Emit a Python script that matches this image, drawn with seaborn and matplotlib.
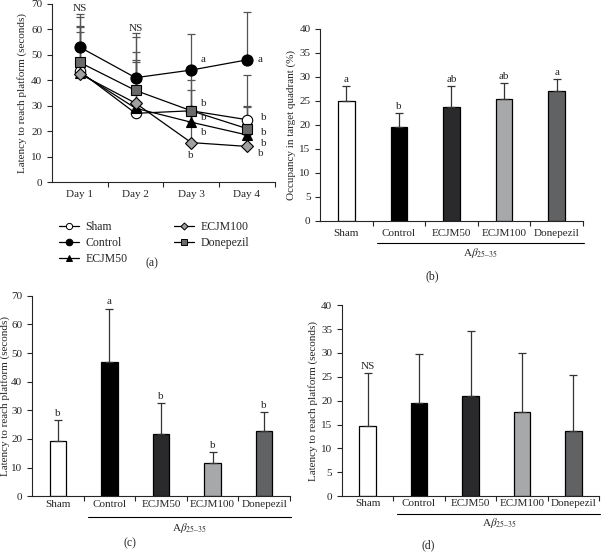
#Morris water maze: latency curves and probe-test bars (4 panels)

#import libraries
import numpy as np
import pandas as pd
import matplotlib.pyplot as plt
import seaborn as sns
from matplotlib.lines import Line2D

#groups and colours
groups = ["Sham", "Control", "ECJM50", "ECJM100", "Donepezil"]
bar_colors = ["#ffffff", "#000000", "#2a2a2c", "#a6a8ab", "#616264"]
days = ["Day 1", "Day 2", "Day 3", "Day 4"]

#(a) latency per training day, mean and upper error
sham_a = [43.5, 27, 28, 24.5]
control_a = [53, 41, 44, 48]
ecjm50_a = [43, 29, 23.5, 18.5]
ecjm100_a = [42.5, 31, 15.5, 14]
donepezil_a = [47, 36, 28, 21]
sham_a_top = [61, 47, 40, 42]
control_a_top = [66, 58.5, 58, 67]
ecjm50_a_top = [61.5, 48, 36, 29.5]
ecjm100_a_top = [59, 51, 30, 25]
donepezil_a_top = [65, 57, 43, 30]

#(b) occupancy in target quadrant
occupancy = [25, 19.5, 23.8, 25.3, 27]
occupancy_top = [28.1, 22.4, 28.1, 28.7, 29.5]
occupancy_letters = ["a", "b", "ab", "ab", "a"]

#(c) latency, probe day
latency_c = [19.3, 46.8, 21.8, 11.5, 22.8]
latency_c_top = [26.5, 65.5, 32.5, 15.3, 29.3]
latency_c_letters = ["b", "a", "b", "b", "b"]

#(d) latency, visible platform
latency_d = [14.7, 19.6, 20.9, 17.7, 13.7]
latency_d_top = [25.8, 29.8, 34.7, 30.0, 25.3]

sns.set_style("ticks")
plt.rcParams['font.family'] = ['Liberation Serif', 'DejaVu Serif']
plt.rcParams['mathtext.fontset'] = 'stix'
plt.rcParams['font.size'] = 8

fig = plt.figure(figsize=(6.04, 5.55), dpi=100)
ax_a = fig.add_axes([0.086, 0.672, 0.369, 0.321])
ax_b = fig.add_axes([0.530, 0.602, 0.435, 0.346])
ax_c = fig.add_axes([0.053, 0.106, 0.427, 0.361])
ax_d = fig.add_axes([0.566, 0.106, 0.426, 0.344])

#---- panel (a) ----
means = [sham_a, control_a, ecjm50_a, ecjm100_a, donepezil_a]
tops = [sham_a_top, control_a_top, ecjm50_a_top, ecjm100_a_top, donepezil_a_top]
df_a = pd.DataFrame({
    "group": np.repeat(groups, len(days)),
    "day": np.tile(np.arange(len(days)), len(groups)),
    "latency": np.concatenate(means),
    "top": np.concatenate(tops),
})
markers = {"Sham": "o", "Control": "o", "ECJM50": "^", "ECJM100": "D", "Donepezil": "s"}
faces = {"Sham": "#ffffff", "Control": "#000000", "ECJM50": "#000000",
         "ECJM100": "#a0a0a0", "Donepezil": "#6a6a6a"}
sizes = {"Sham": 7.5, "Control": 8, "ECJM50": 7, "ECJM100": 6, "Donepezil": 6.5}

#error bars (upper only)
for g in groups:
    sub = df_a[df_a.group == g]
    ax_a.errorbar(sub.day, sub.latency, yerr=[np.zeros(len(sub)), sub.top - sub.latency],
                  fmt="none", ecolor="#555555", elinewidth=0.9, capsize=3, capthick=0.9, zorder=1)
sns.lineplot(data=df_a, x="day", y="latency", hue="group", palette=["black"] * 5,
             linewidth=0.9, legend=False, ax=ax_a, zorder=2)
for g in groups:
    sub = df_a[df_a.group == g]
    ax_a.plot(sub.day, sub.latency, linestyle="none", marker=markers[g], markersize=sizes[g],
              markerfacecolor=faces[g], markeredgecolor="black", markeredgewidth=0.8, zorder=3)

ax_a.set_xlim(-0.5, 3.5)
ax_a.set_ylim(0, 70)
ax_a.set_yticks(range(0, 71, 10))
ax_a.set_xticks([0.5, 1.5, 2.5, 3.5])
ax_a.set_xticklabels([])
ax_a.set_xticks(range(4), minor=True)
ax_a.set_xticklabels(days, minor=True)
ax_a.tick_params(axis="x", which="minor", length=0, pad=6)
ax_a.set_xlabel("")
ax_a.set_ylabel("Latency to reach platform (seconds)", labelpad=3)
ax_a.text(0, 68, "NS", ha="center", va="center", clip_on=False)
ax_a.text(1, 60.5, "NS", ha="center", va="center")
ax_a.text(2.17, 48, "a", ha="left", va="center")
ax_a.text(3.2, 48, "a", ha="left", va="center")
for x, y in [(2.17, 30.7), (2.17, 25.2), (2.17, 19.6), (2.0, 10.3),
             (3.25, 25.4), (3.25, 19.5), (3.25, 15.2), (3.2, 11.3)]:
    ax_a.text(x, y, "b", ha="left" if x > 2.05 else "center", va="center")

handles = [Line2D([], [], color="black", lw=0.9, marker=markers[g], markersize=sizes[g] * 0.6,
                  markerfacecolor=faces[g], markeredgecolor="black", markeredgewidth=0.7)
           for g in groups]
fig.legend(handles, groups, ncol=2, loc="upper left", bbox_to_anchor=(0.088, 0.612),
           frameon=False, borderpad=0, handlelength=1.7, handletextpad=0.55,
           columnspacing=3.9, labelspacing=0.32, fontsize=8.5)


#---- bar panels ----
def bar_panel(ax, values, top, ymax, ystep, ylabel, letters, line_y, ab_y, pad):
    df = pd.DataFrame({"group": groups, "value": values, "top": top})
    sns.barplot(data=df, x="group", y="value", hue="group", palette=bar_colors,
                edgecolor="black", linewidth=0.9, width=0.32, legend=False, ax=ax)
    ax.errorbar(range(len(groups)), df.value, yerr=[np.zeros(len(df)), df.top - df.value],
                fmt="none", ecolor="#333333", elinewidth=0.9, capsize=3, capthick=0.9)
    ax.set_xlim(-0.5, 4.5)
    ax.set_ylim(0, ymax)
    ax.set_yticks(np.arange(0, ymax + 0.1, ystep))
    ax.set_xticks([0.5, 1.5, 2.5, 3.5, 4.5])
    ax.set_xticklabels([])
    ax.set_xticks(range(5), minor=True)
    ax.set_xticklabels(groups, minor=True)
    ax.tick_params(axis="x", which="minor", length=0, pad=pad)
    ax.set_xlabel("")
    ax.set_ylabel(ylabel, labelpad=2)
    for i, t in enumerate(letters):
        if t:
            ax.text(i, top[i] + ymax * 0.012, t, ha="center", va="bottom")
    tr = ax.get_xaxis_transform()
    ax.plot([0.58, 4.52], [line_y, line_y], color="black", lw=0.8, transform=tr, clip_on=False)
    ax.text(2.55, ab_y, "A$\\beta_{25\u201335}$", ha="center", va="center", transform=tr)
    sns.despine(ax=ax)


bar_panel(ax_b, occupancy, occupancy_top, 40, 5, "Occupancy in target quadrant (%)",
          occupancy_letters, -0.115, -0.165, 6)
bar_panel(ax_c, latency_c, latency_c_top, 70, 10, "Latency to reach platform (seconds)",
          latency_c_letters, -0.105, -0.16, 3)
bar_panel(ax_d, latency_d, latency_d_top, 40, 5, "Latency to reach platform (seconds)",
          ["NS", "", "", "", ""], -0.092, -0.14, 2)
ax_c.yaxis.labelpad = 0.5
sns.despine(ax=ax_a)

#panel letters
fig.text(152 / 604, 1 - 263 / 555, "(a)", ha="center", va="center", fontsize=8.5)
fig.text(432 / 604, 1 - 276 / 555, "(b)", ha="center", va="center", fontsize=8.5)
fig.text(130 / 604, 1 - 543 / 555, "(c)", ha="center", va="center", fontsize=8.5)
fig.text(428 / 604, 1 - 545 / 555, "(d)", ha="center", va="center", fontsize=8.5)

fig.savefig("out.png", dpi=100)
